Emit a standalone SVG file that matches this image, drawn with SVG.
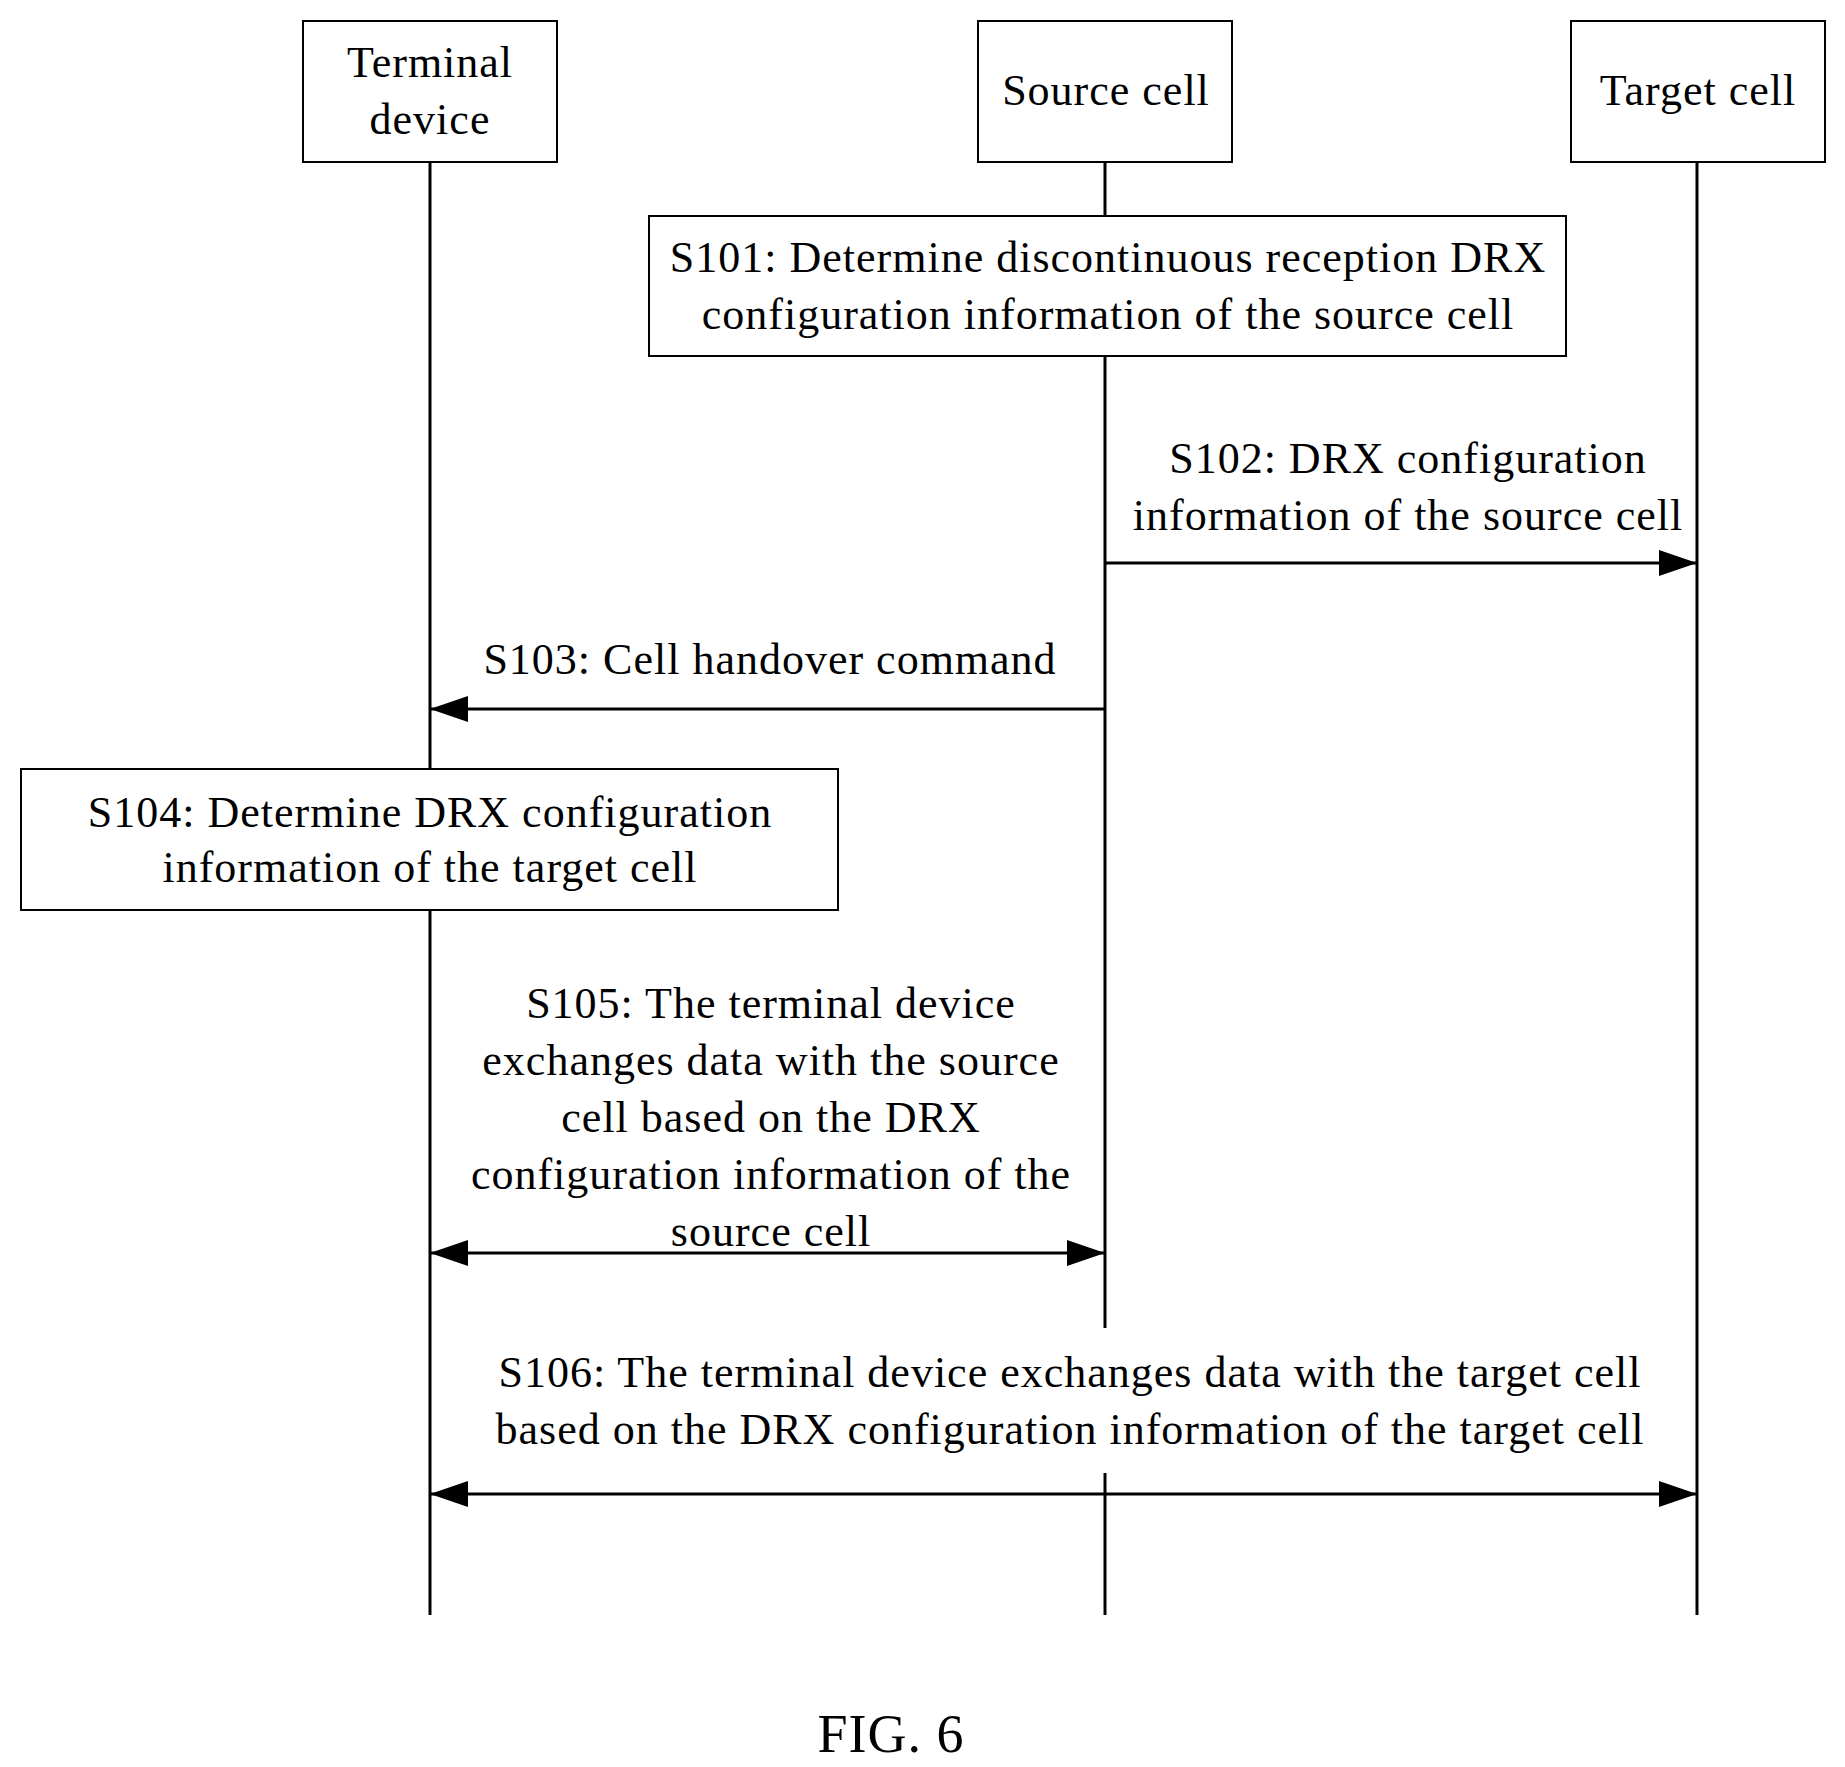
<svg xmlns="http://www.w3.org/2000/svg" width="1845" height="1767" viewBox="0 0 1845 1767">
<style>
text{font-family:"Liberation Serif",serif;font-size:44px;letter-spacing:1px;fill:#000;text-anchor:middle}
.b{fill:#fff;stroke:#000;stroke-width:2}
.l{stroke:#000;stroke-width:3;fill:none}
</style>
<defs>
<marker id="ah" markerWidth="38" markerHeight="26" refX="38" refY="13" orient="auto-start-reverse" markerUnits="userSpaceOnUse" viewBox="0 0 38 26"><path d="M0,0L38,13L0,26z"/></marker>
</defs>
<rect width="1845" height="1767" fill="#fff"/>
<g id="lifelines">
<line class="l" x1="430" y1="162" x2="430" y2="1615"/>
<line class="l" x1="1105" y1="162" x2="1105" y2="1328"/>
<line class="l" x1="1105" y1="1473" x2="1105" y2="1615"/>
<line class="l" x1="1697" y1="162" x2="1697" y2="1615"/>
</g>
<g id="terminal"><rect class="b" x="303" y="21" width="254" height="141"/><text x="430" y="77">Terminal</text><text x="430" y="134">device</text></g>
<g id="source"><rect class="b" x="978" y="21" width="254" height="141"/><text x="1106" y="105">Source cell</text></g>
<g id="target"><rect class="b" x="1571" y="21" width="254" height="141"/><text x="1698" y="105">Target cell</text></g>
<g id="s101"><rect class="b" x="649" y="216" width="917" height="140"/><text x="1108" y="272">S101: Determine discontinuous reception DRX</text><text x="1108" y="329">configuration information of the source cell</text></g>
<g id="s104"><rect class="b" x="21" y="769" width="817" height="141"/><text x="430" y="827">S104: Determine DRX configuration</text><text x="430" y="882">information of the target cell</text></g>
<g id="connectors">
<line class="l" x1="1105" y1="563" x2="1697" y2="563" marker-end="url(#ah)"/>
<line class="l" x1="1105" y1="709" x2="430" y2="709" marker-end="url(#ah)"/>
<line class="l" x1="430" y1="1253" x2="1105" y2="1253" marker-start="url(#ah)" marker-end="url(#ah)"/>
<line class="l" x1="430" y1="1494" x2="1697" y2="1494" marker-start="url(#ah)" marker-end="url(#ah)"/>
</g>
<g id="labels">
<text x="1408" y="473">S102: DRX configuration</text><text x="1408" y="530">information of the source cell</text>
<text x="770" y="674">S103: Cell handover command</text>
<text x="771" y="1018">S105: The terminal device</text>
<text x="771" y="1075">exchanges data with the source</text>
<text x="771" y="1132">cell based on the DRX</text>
<text x="771" y="1189">configuration information of the</text>
<text x="771" y="1246">source cell</text>
<text x="1070" y="1387">S106: The terminal device exchanges data with the target cell</text>
<text x="1070" y="1444">based on the DRX configuration information of the target cell</text>
<text x="891" y="1752" style="font-size:54px">FIG. 6</text>
</g>
</svg>
